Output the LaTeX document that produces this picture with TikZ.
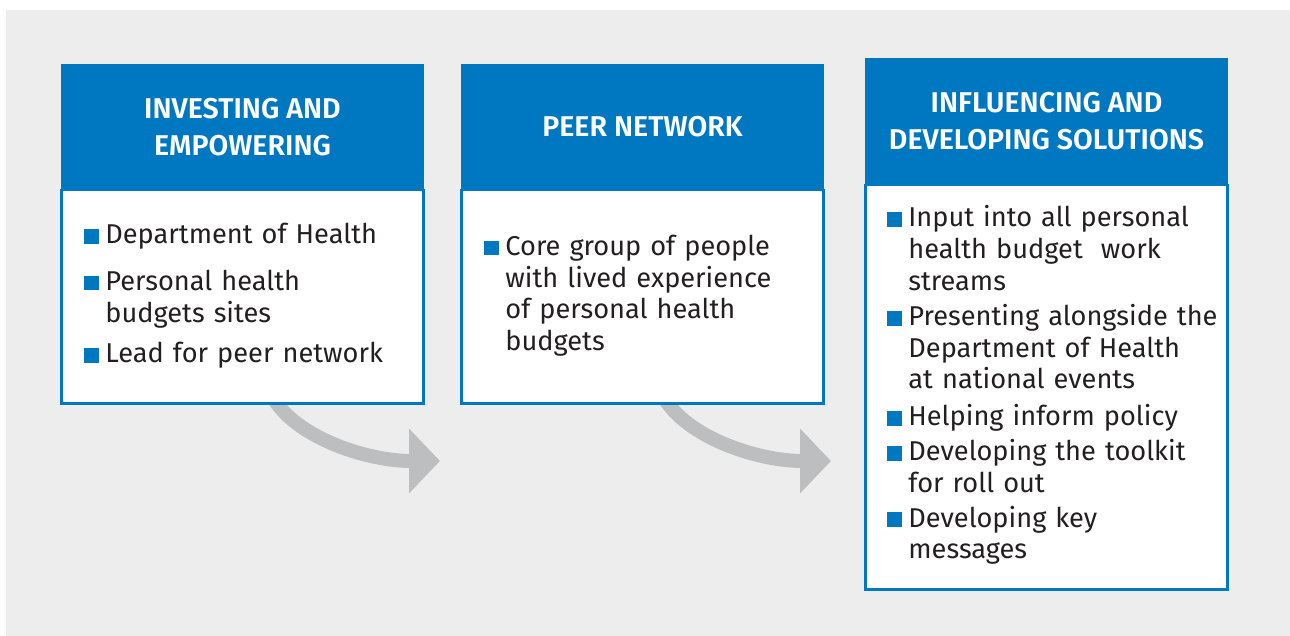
\documentclass[tikz,border=0pt]{standalone}
\usepackage{fontspec}
\setmainfont{Fira Sans}[BoldFont={Fira Sans SemiBold}]
\usepackage{xcolor}
\usetikzlibrary{arrows.meta,backgrounds}
\definecolor{nhsblue}{HTML}{0078C1}
\definecolor{panelbg}{HTML}{EDEDED}
\definecolor{flowgrey}{HTML}{BDBEC0}
\definecolor{inkc}{HTML}{231F20}
% blue square bullet hung left of the item text
\newcommand{\sqb}{\llap{\textcolor{nhsblue}{\rule{7.3pt}{7.3pt}}\hspace{3.4pt}}}
\tikzset{
  head/.style={fill=nhsblue,inner sep=0pt,outer sep=0pt,anchor=north west,
    minimum width=181.5pt,minimum height=63pt,align=center,text=white,
    font=\fontsize{14.3}{18.3}\selectfont\bfseries},
  body/.style={draw=nhsblue,line width=1.2pt,fill=white,inner sep=0pt,outer sep=0pt,
    anchor=north west,minimum width=180.9pt},
  item/.style={anchor=base west,inner sep=0pt,text width=170pt,align=left,text=inkc,
    font=\fontsize{13.6}{15.85}\selectfont},
  turn/.style={draw=flowgrey,line width=7pt,-{Triangle[length=15.5pt,width=31.5pt]}},
}

\begin{document}
\begin{tikzpicture}[x=0.5pt,y=-0.5pt]
  \useasboundingbox (0,0) rectangle (1290,636);
  % the three stages
  \node[head] (h1) at (61,64){INVESTING AND\\EMPOWERING};
  \node[body,minimum height=106.7pt] (b1) at (61.6,190){};
  \node[head] (h2) at (461,64){PEER NETWORK};
  \node[body,minimum height=106.7pt] (b2) at (461.6,190){};
  \node[head] (h3) at (865,58){INFLUENCING AND\\DEVELOPING SOLUTIONS};
  \node[body,minimum height=202.2pt] (b3) at (865.6,185){};
  % bullet points
  \node[item] (i11) at (105,244){\sqb Department of Health};
  \node[item] (i12) at (105,290.5){\sqb Personal health\\budgets sites};
  \node[item] (i13) at (105,362.5){\sqb Lead for peer network};
  \node[item] (i21) at (505,255.5){\sqb Core group of people\\with lived experience\\of personal health\\budgets};
  \node[item] (i31) at (908,227){\sqb Input into all personal\\health budget~ work\\streams};
  \node[item] (i32) at (908,325.5){\sqb Presenting alongside the\\Department of Health\\at national events};
  \node[item] (i33) at (908,425.5){\sqb Helping inform policy};
  \node[item] (i34) at (908,460.5){\sqb Developing the toolkit\\for roll out};
  \node[item] (i35) at (908,527){\sqb Developing key\\messages};
  \coordinate (t1) at (440,461);
  \coordinate (t2) at (831,461);
  \begin{scope}[on background layer]
    \fill[panelbg] (6,10) rectangle (1290,636);
    \draw[turn] ([xshift=15.75pt,yshift=2pt]b1.south) .. controls (300,440) and (370,461) .. (t1);
    \draw[turn] ([xshift=11.25pt,yshift=2pt]b2.south) .. controls (691,440) and (761,461) .. (t2);
  \end{scope}
\end{tikzpicture}
\end{document}
